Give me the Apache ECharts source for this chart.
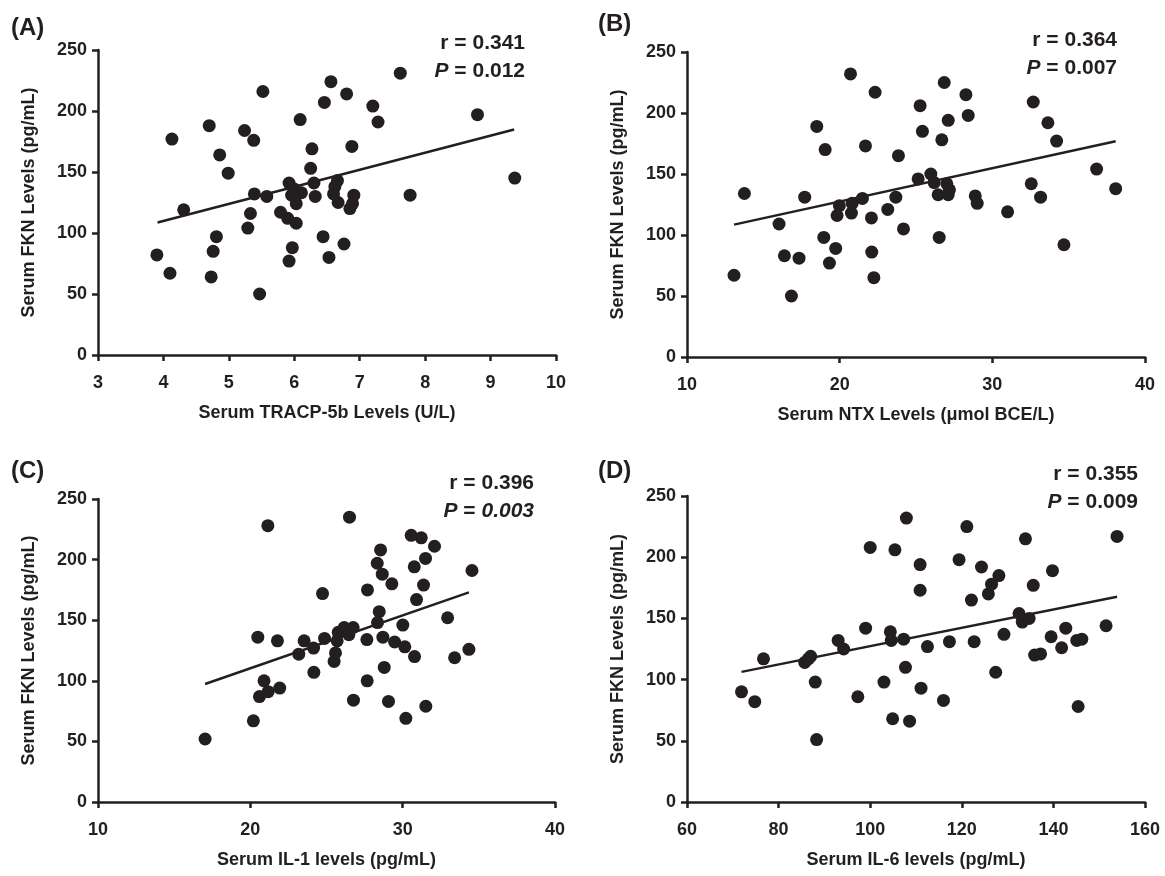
<!DOCTYPE html>
<html>
<head>
<meta charset="utf-8">
<script src="https://cdn.jsdelivr.net/npm/echarts@6/dist/echarts.min.js"></script>
<style>
  html, body { margin: 0; padding: 0; background: #fff; }
  #chart { width: 1165px; height: 876px; }
</style>
</head>
<body>
<div id="chart"></div>
<script>
// (A) TRACP-5b vs FKN
const tracpX = [3.90, 4.10, 4.13, 4.31, 4.70, 4.76, 4.81, 4.73, 4.86, 4.99, 5.24, 5.38, 5.39, 5.33, 5.29, 5.52, 5.58, 5.47,
  5.79, 5.90, 6.03, 5.92, 5.96, 6.03, 6.11, 6.00, 6.09, 5.97, 5.92, 6.27, 6.25, 6.30, 6.32, 6.46, 6.56, 6.44, 6.53,
  6.66, 6.62, 6.60, 6.67, 6.80, 6.88, 6.76, 6.91, 6.89, 6.85, 7.20, 7.28, 7.62, 7.77, 8.80, 9.37]
const tracpY = [82, 67, 177, 119, 188, 85, 97, 64, 164, 149, 184, 176, 132, 116, 104, 216, 130, 50,
  117, 112, 108, 141, 131, 124, 133, 136, 193, 88, 77, 169, 153, 141, 130, 207, 224, 97, 80,
  143, 138, 132, 125, 214, 171, 91, 131, 124, 120, 204, 191, 231, 131, 197, 145]
const tracpFitX = [3.91, 9.36]
const tracpFitY = [108.6, 184.8]

// (B) NTX vs FKN
const ntxX = [13.08, 13.76, 16.03, 16.38, 17.34, 16.84, 17.71, 18.50, 19.05, 18.96, 19.33, 19.74, 19.83, 19.98, 20.71,
  20.77, 20.82, 21.49, 21.69, 22.08, 22.10, 22.24, 22.32, 23.15, 23.68, 23.85, 24.18, 25.14, 25.27, 25.42, 25.97,
  26.19, 26.45, 26.52, 26.69, 26.85, 27.02, 27.11, 27.11, 27.19, 28.27, 28.42, 28.88, 29.01, 31.00, 32.55, 32.68,
  33.16, 33.64, 34.21, 34.69, 36.83, 38.08]
const ntxY = [67, 134, 109, 83, 81, 50, 131, 189, 170, 98, 77, 89, 116, 124, 232,
  118, 126, 130, 173, 114, 86, 65, 217, 121, 131, 165, 105, 146, 206, 185, 150,
  143, 133, 98, 178, 225, 142, 194, 133, 137, 215, 198, 132, 126, 119, 142, 209,
  131, 192, 177, 92, 154, 138]
const ntxFitX = [13.08, 38.08]
const ntxFitY = [108.5, 176.8]

// (C) IL-1 vs FKN
const il1X = [17.03, 20.20, 20.49, 20.60, 20.90, 21.17, 21.15, 21.78, 21.93, 23.18, 23.53, 24.15, 24.17, 24.74, 24.87,
  25.50, 25.59, 25.70, 25.77, 26.16, 26.47, 26.75, 26.51, 26.77, 27.65, 27.67, 27.69, 28.33, 28.46, 28.35, 28.55,
  28.66, 28.70, 28.79, 29.07, 29.29, 29.47, 30.01, 30.14, 30.21, 30.56, 31.22, 30.76, 31.50, 32.09, 31.37, 30.91,
  30.78, 31.52, 32.95, 33.41, 34.35, 34.55]
const il1Y = [52, 67, 136, 87, 100, 91, 228, 133, 94, 122, 133, 127, 107, 172, 135,
  116, 123, 133, 140, 144, 138, 144, 235, 84, 134, 100, 175, 197, 157, 148, 208,
  188, 136, 111, 83, 180, 132, 146, 128, 69, 220, 218, 194, 201, 211, 179, 167,
  120, 79, 152, 119, 126, 191]
const il1FitX = [17.03, 34.35]
const il1FitY = [97.4, 173.0]

// (D) IL-6 vs FKN
const il6X = [71.9, 74.8, 76.7, 85.7, 86.5, 87.0, 88.0, 88.3, 93.0, 94.2, 97.3, 99.0, 100.0, 103.0, 104.4,
  104.6, 104.9, 105.4, 107.3, 107.7, 107.9, 108.6, 110.9, 110.9, 111.1, 112.5, 116.0, 117.3, 119.4, 121.1, 122.1,
  122.7, 124.3, 125.8, 126.5, 128.1, 127.4, 129.2, 132.5, 133.2, 134.7, 133.9, 135.6, 135.9, 137.2, 139.5, 139.8,
  141.8, 142.7, 145.1, 146.2, 145.4, 151.5, 153.9]
const il6Y = [90, 82, 117, 114, 117, 119, 98, 51, 132, 125, 86, 142, 208, 98, 139,
  132, 68, 206, 133, 110, 232, 66, 194, 173, 93, 127, 83, 131, 198, 225, 165,
  131, 192, 170, 178, 185, 106, 137, 154, 147, 150, 215, 177, 120, 121, 135, 189,
  126, 142, 132, 133, 78, 144, 217]
const il6FitX = [71.9, 153.9]
const il6FitY = [106.3, 167.7]

const xNames = ['Serum TRACP-5b Levels (U/L)', 'Serum NTX Levels (\u03bcmol BCE/L)', 'Serum IL-1 levels (pg/mL)', 'Serum IL-6 levels (pg/mL)']
const xRanges = [[3, 10, 1], [10, 40, 10], [10, 40, 10], [60, 160, 20]]
const panelTags = ['(A)', '(B)', '(C)', '(D)']
const rTexts = ['r = 0.341', 'r = 0.364', 'r = 0.396', 'r = 0.355']
const pTexts = ['0.012', '0.007', '0.003', '0.009']

const ink = '#231f20'
const font = "'Liberation Sans', Arial, sans-serif"

const pairs = (xs, ys) => xs.map((x, i) => [x, ys[i]])
const scatterData = [pairs(tracpX, tracpY), pairs(ntxX, ntxY), pairs(il1X, il1Y), pairs(il6X, il6Y)]
const fitData = [pairs(tracpFitX, tracpFitY), pairs(ntxFitX, ntxFitY), pairs(il1FitX, il1FitY), pairs(il6FitX, il6FitY)]

const grids = [
  { left: 98, top: 50, width: 458, height: 305 },
  { left: 687, top: 52, width: 458, height: 305 },
  { left: 98, top: 499, width: 457, height: 303 },
  { left: 687, top: 496, width: 458, height: 306 }
]

const axisLine = { lineStyle: { color: ink, width: 2.5 } }
const axisTick = { show: true, inside: false, length: 6, lineStyle: { color: ink, width: 2.5 } }

const chart = echarts.init(document.getElementById('chart'), null, { renderer: 'canvas' })

const option = {
  backgroundColor: '#fff',
  animation: false,
  textStyle: { fontFamily: font },
  grid: grids,
  xAxis: xRanges.map((r, i) => ({
    type: 'value',
    gridIndex: i,
    min: r[0],
    max: r[1],
    interval: r[2],
    name: xNames[i],
    nameLocation: 'middle',
    nameGap: 49,
    nameTextStyle: { color: ink, fontSize: 18, fontWeight: 'bold', fontFamily: font },
    axisLine: axisLine,
    axisTick: axisTick,
    splitLine: { show: false },
    axisLabel: { color: ink, fontSize: 18, fontWeight: 'bold', margin: 19, fontFamily: font }
  })),
  yAxis: grids.map((g, i) => ({
    type: 'value',
    gridIndex: i,
    min: 0,
    max: 250,
    interval: 50,
    name: 'Serum FKN Levels (pg/mL)',
    nameLocation: 'middle',
    nameGap: 60,
    nameTextStyle: { color: ink, fontSize: 18, fontWeight: 'bold', fontFamily: font },
    axisLine: axisLine,
    axisTick: axisTick,
    splitLine: { show: false },
    axisLabel: { color: ink, fontSize: 18, fontWeight: 'bold', margin: 11, fontFamily: font }
  })),
  series: [].concat(
    scatterData.map((d, i) => ({
      type: 'scatter',
      xAxisIndex: i,
      yAxisIndex: i,
      symbolSize: 13,
      itemStyle: { color: ink, opacity: 1 },
      data: d
    })),
    fitData.map((d, i) => ({
      type: 'line',
      xAxisIndex: i,
      yAxisIndex: i,
      symbol: 'none',
      lineStyle: { color: ink, width: 2.5 },
      data: d
    }))
  ),
  graphic: [
    { type: 'text', left: 11, top: 16, style: { text: panelTags[0], font: 'bold 24px ' + font, fill: ink } },
    { type: 'text', left: 598, top: 12, style: { text: panelTags[1], font: 'bold 24px ' + font, fill: ink } },
    { type: 'text', left: 11, top: 459, style: { text: panelTags[2], font: 'bold 24px ' + font, fill: ink } },
    { type: 'text', left: 598, top: 459, style: { text: panelTags[3], font: 'bold 24px ' + font, fill: ink } }
  ].concat(
    [[525, 57], [1117, 54], [534, 497], [1138, 488]].map((p, i) => ({
      type: 'text',
      x: p[0],
      y: p[1],
      style: {
        text: rTexts[i] + '\n{i|P} = ' + (i === 2 ? '{i|' + pTexts[i] + '}' : pTexts[i]),
        align: 'right',
        verticalAlign: 'middle',
        font: 'bold 21px ' + font,
        fill: ink,
        lineHeight: 28,
        rich: {
          i: { fontStyle: 'italic', fontWeight: 'bold', fontSize: 21, fontFamily: font, fill: ink, lineHeight: 28 }
        }
      }
    }))
  )
}

chart.setOption(option)
</script>
</body>
</html>
